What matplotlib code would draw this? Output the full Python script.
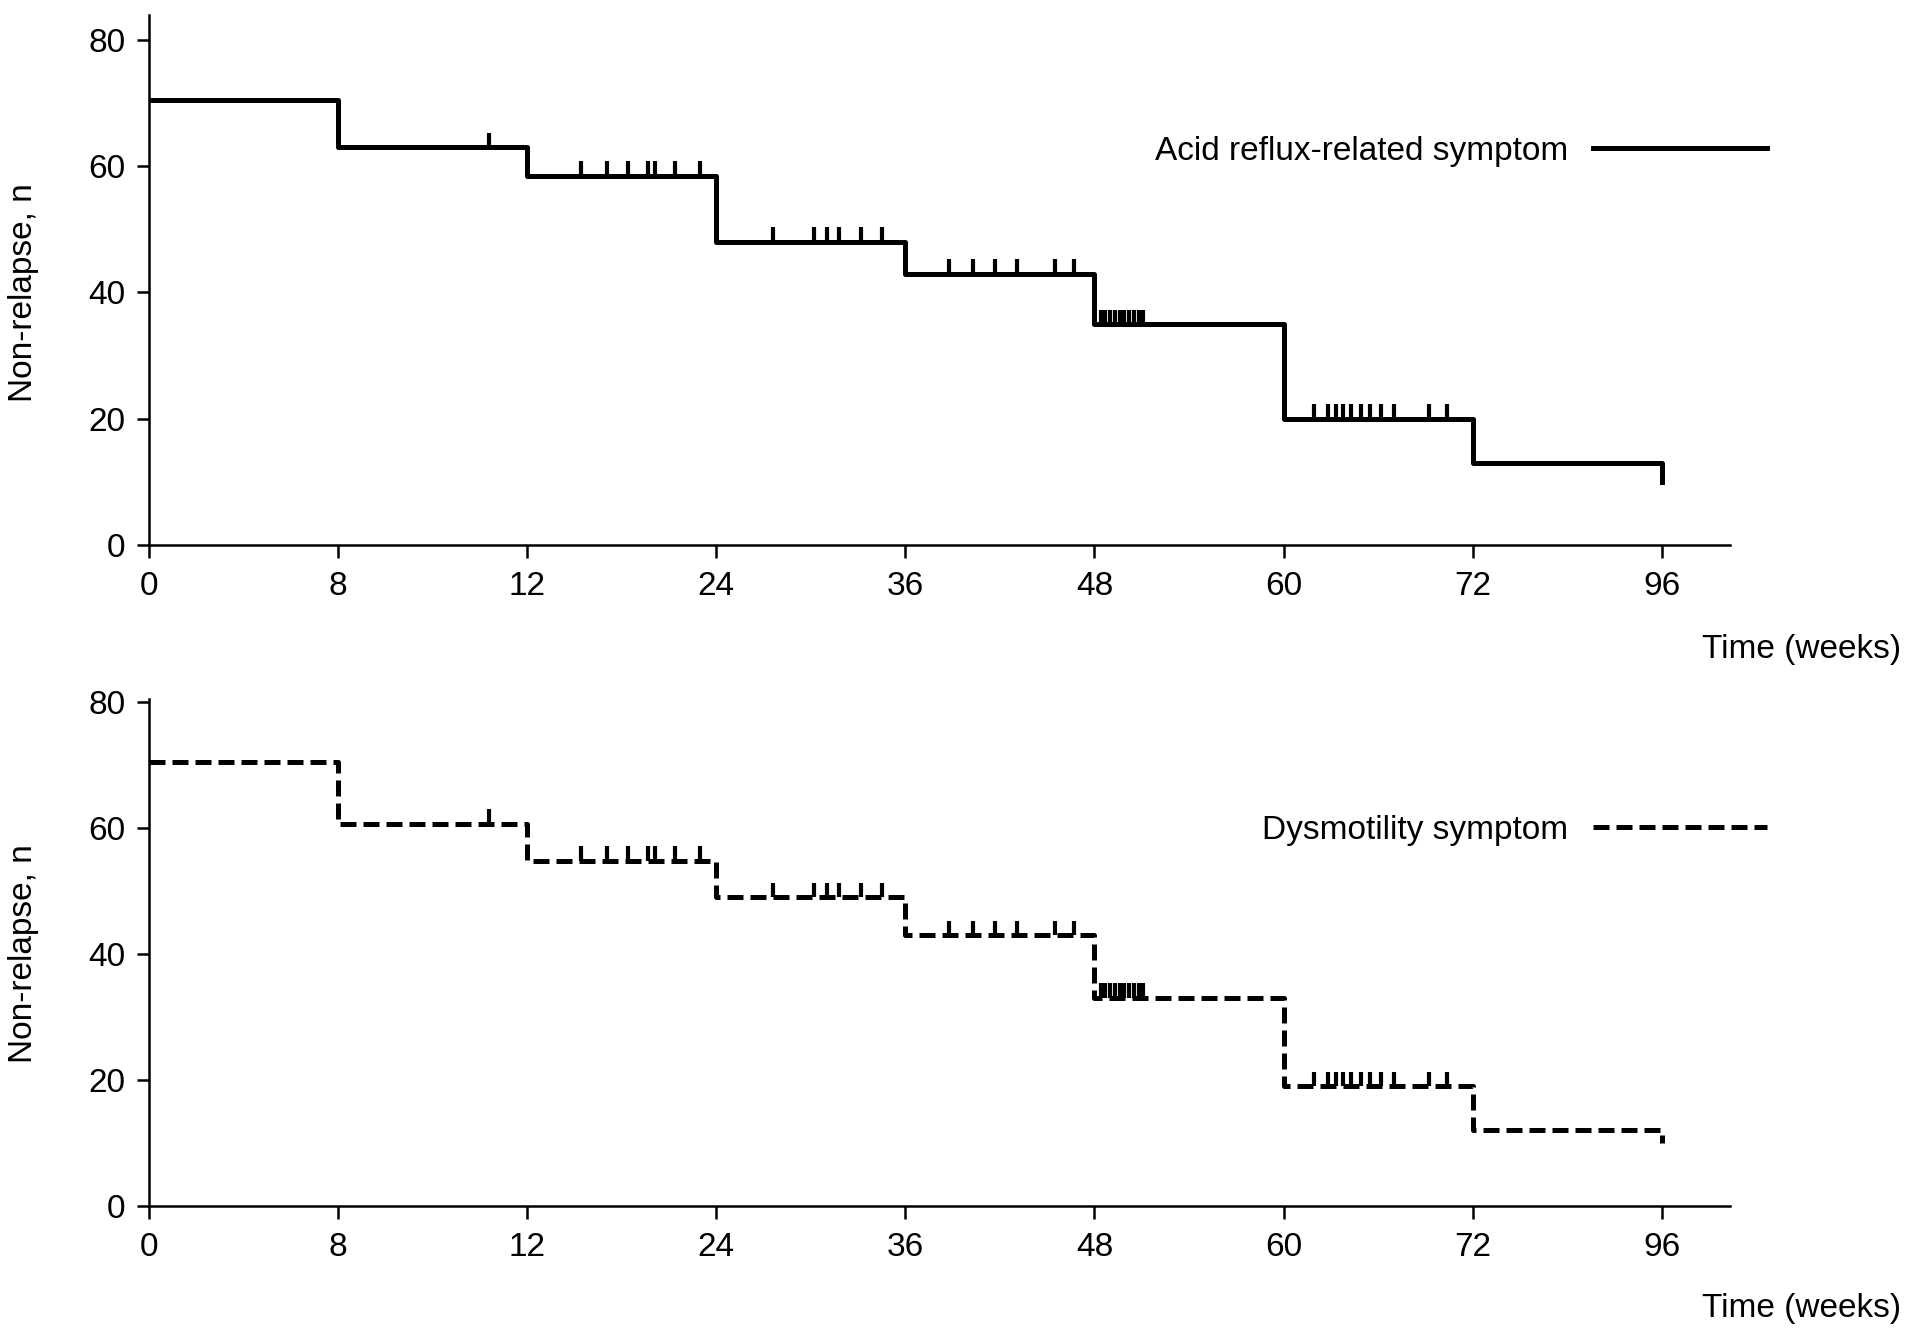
import matplotlib
matplotlib.use('Agg')
import matplotlib.pyplot as plt
import numpy as np

plt.rcParams['font.family'] = ['Liberation Sans', 'DejaVu Sans']

# axis ticks (weeks), drawn evenly spaced
tick_weeks = [0, 8, 12, 24, 36, 48, 60, 72, 96]

# step times and non-relapse counts
step_weeks = [0, 8, 12, 24, 36, 48, 60, 72, 96, 96]
acid_n = [70.5, 63, 58.5, 48, 43, 35, 20, 13, 13, 10]
dysm_n = [70.5, 60.7, 54.8, 49, 43, 33, 19, 12, 12, 10]

# censored observations (weeks)
censor_weeks = [11.2,
                15.4, 17.1, 18.4, 19.7, 20.1, 21.4, 23.0,
                27.6, 30.2, 31.0, 31.8, 33.2, 34.5,
                38.8, 40.3, 41.7, 43.1, 45.5, 46.7,
                48.4, 48.7, 49.0, 49.3, 49.6, 49.9, 50.2, 50.5, 50.8, 51.1,
                61.9, 62.8, 63.3, 63.8, 64.3, 64.9, 65.5, 66.2, 67.0, 69.2, 70.4]

labels = ['Acid reflux-related symptom', 'Dysmotility symptom']


def pos(w):
    return np.interp(w, tick_weeks, np.arange(len(tick_weeks)))


fig = plt.figure(figsize=(19.13, 13.41), dpi=100)
ax1 = fig.add_axes([0.0778, 0.5936, 0.8265, 0.3954])
ax2 = fig.add_axes([0.0778, 0.1009, 0.8265, 0.3779])

panels = [(ax1, acid_n, '-', 84, 0.887), (ax2, dysm_n, (0, (3.2, 1.4)), 80.5, 0.381)]

for (ax, n, ls, ytop, legy), lab in zip(panels, labels):
    xs = pos(step_weeks)
    ax.step(xs, n, where='post', color='black', lw=3.6, linestyle=ls, label=lab)
    # censor marks
    lev = np.array([n[np.searchsorted(step_weeks, w, side='right') - 1] for w in censor_weeks])
    ax.vlines(pos(censor_weeks), lev, lev + 2.3, color='black', lw=3.0)

    ax.set_xlim(0, 8.36)
    ax.set_ylim(0, ytop)
    ax.set_xticks(range(len(tick_weeks)))
    ax.set_xticklabels([str(t) for t in tick_weeks])
    ax.set_yticks([0, 20, 40, 60, 80])
    ax.tick_params(labelsize=24, length=9, width=1.8, direction='out')
    ax.tick_params(axis='x', pad=10)
    ax.tick_params(axis='y', pad=8)
    for s in ['top', 'right']:
        ax.spines[s].set_visible(False)
    for s in ['left', 'bottom']:
        ax.spines[s].set_linewidth(1.8)

    ax.set_ylabel('Non-relapse, n', fontsize=24)
    ax.yaxis.set_label_coords(-0.0695, 40 / ytop)

    ax.legend(frameon=False, markerfirst=False, fontsize=24, loc='center right',
              bbox_to_anchor=(0.9235, legy), bbox_transform=fig.transFigure,
              borderpad=0, borderaxespad=0, handlelength=5.2, handletextpad=0.75)

fig.text(0.9936, 0.516, 'Time (weeks)', fontsize=24, ha='right', va='center')
fig.text(0.9936, 0.0245, 'Time (weeks)', fontsize=24, ha='right', va='center')

fig.savefig('out.png', dpi=100)
